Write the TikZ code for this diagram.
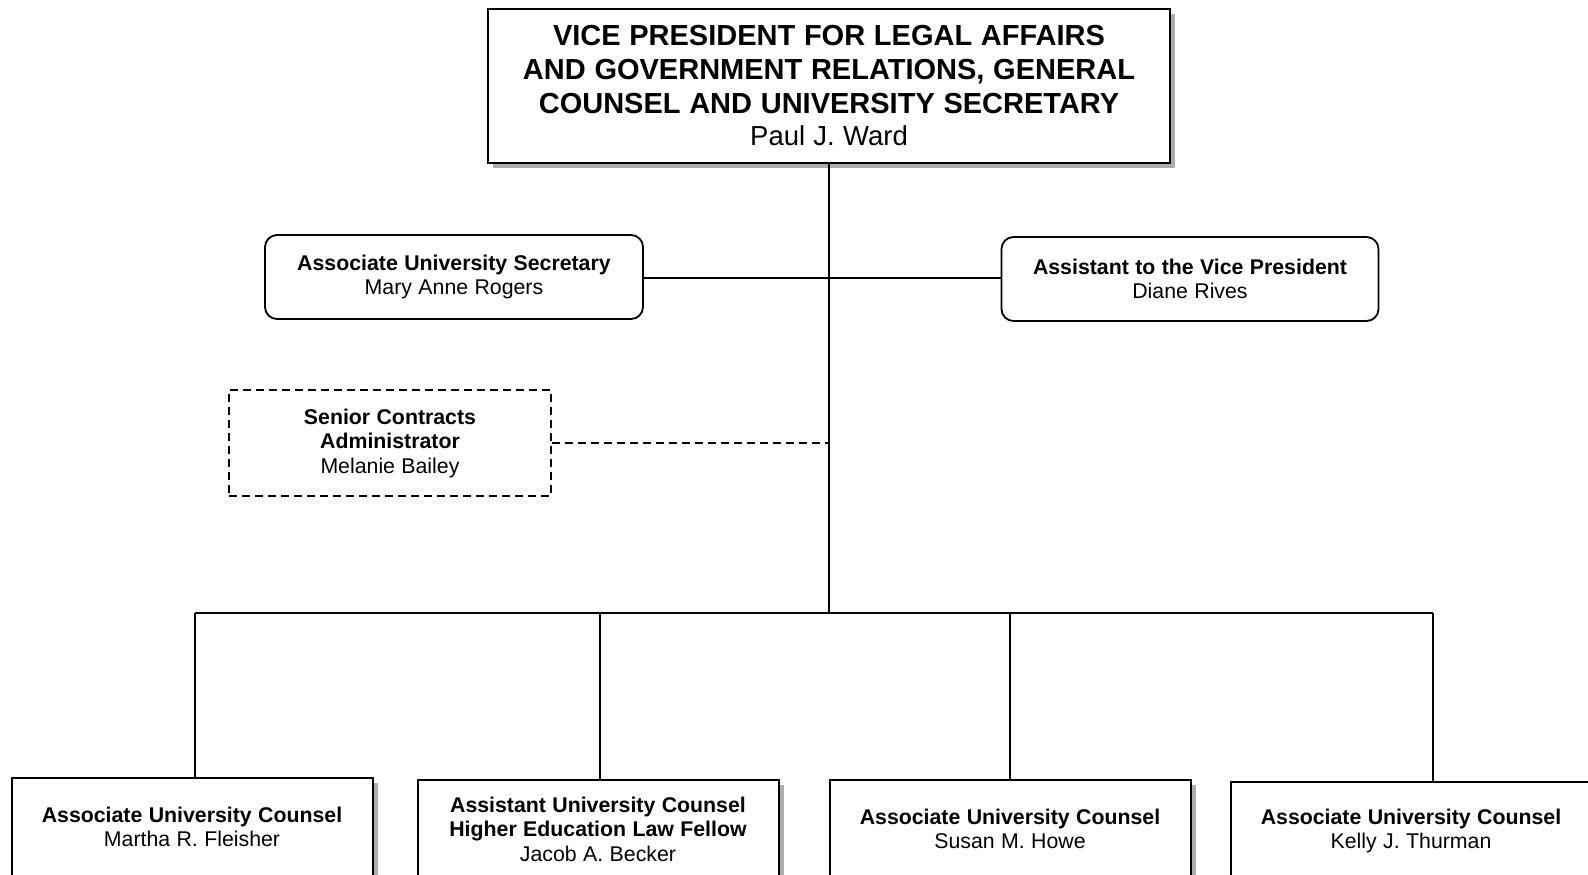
\documentclass[tikz,border=0pt]{standalone}
\usepackage{fontspec}
\setmainfont{Liberation Sans}
\usepackage{tikz}
\usetikzlibrary{shadows}

\tikzset{
  headbox/.style={draw, line width=2.4pt, fill=white, align=center,
    text width=670pt, minimum width=682pt, minimum height=154pt, inner sep=0pt,
    drop shadow={shadow xshift=5pt, shadow yshift=-5pt, fill=gray!65, opacity=1}},
  staffbox/.style={draw, line width=1.8pt, rounded corners=12pt, fill=white,
    align=center, text width=366pt, minimum width=378pt, minimum height=84pt, inner sep=0pt},
  dashbox/.style={draw, line width=1.6pt, dash pattern=on 8pt off 5pt, align=center,
    text width=300pt, minimum width=322pt, minimum height=106pt, inner sep=0pt},
  counselbox/.style={draw, line width=2pt, fill=white, align=center,
    text width=350pt, minimum width=361pt, minimum height=98pt, inner sep=0pt,
    drop shadow={shadow xshift=5pt, shadow yshift=-5pt, fill=gray!65, opacity=1}},
  link/.style={line width=1.6pt}
}
\newcommand{\bigtitle}{\fontsize{29}{34}\selectfont\bfseries\spaceskip=.3em\relax}
\newcommand{\bigname}{\fontsize{27.5}{32}\selectfont\spaceskip=.3em\relax}
\newcommand{\smalltitle}{\fontsize{21.3}{24.5}\selectfont\bfseries\spaceskip=.3em\relax}
\newcommand{\smallname}{\fontsize{21.3}{24.5}\selectfont\spaceskip=.3em\relax}

\begin{document}
\begin{tikzpicture}[x=1pt,y=-1pt]
\useasboundingbox (0,0) rectangle (1588,875);

% boxes
\node[headbox] (vp) at (829,86) {{\bigtitle VICE PRESIDENT FOR LEGAL AFFAIRS\\
  AND GOVERNMENT RELATIONS, GENERAL\\ COUNSEL AND UNIVERSITY SECRETARY\par}
  {\bigname Paul J. Ward\par}};
\node[staffbox] (sec) at (454,277) {{\smalltitle Associate University Secretary\par}
  {\smallname Mary Anne Rogers\par}};
\node[staffbox, minimum width=377pt] (asst) at (1190,279) {{\smalltitle Assistant to the Vice President\par}
  {\smallname Diane Rives\par}};
\node[dashbox] (contr) at (390,443) {{\smalltitle Senior Contracts\\ Administrator\par}
  {\smallname Melanie Bailey\par}};

\node[counselbox] (c1) at (192,827) {{\smalltitle Associate University Counsel\par}
  {\smallname Martha R. Fleisher\par}};
\node[counselbox] (c2) at (598,829) {{\smalltitle Assistant University Counsel\\
  Higher Education Law Fellow\par} {\smallname Jacob A. Becker\par}};
\node[counselbox] (c3) at (1010,829) {{\smalltitle Associate University Counsel\par}
  {\smallname Susan M. Howe\par}};
\node[counselbox] (c4) at (1411,831) {{\smalltitle Associate University Counsel\par}
  {\smallname Kelly J. Thurman\par}};

% junctions
\coordinate (mid) at (829,278);
\coordinate (bus) at (829,613);
\coordinate (b1) at (195,613);
\coordinate (b2) at (600,613);
\coordinate (b3) at (1010,613);
\coordinate (b4) at (1433,613);

% lines
\draw[link] (vp.south) -- (bus);
\draw[link] (mid -| sec.east) -- (mid -| asst.west);
\draw[link, dash pattern=on 8pt off 5pt] (contr.east) -- (contr.east -| bus);
\draw[link] (b1) -- (b4);
\foreach \b/\c in {b1/c1, b2/c2, b3/c3, b4/c4}
  \draw[link] (\b) -- (\b |- \c.north);
\end{tikzpicture}
\end{document}
